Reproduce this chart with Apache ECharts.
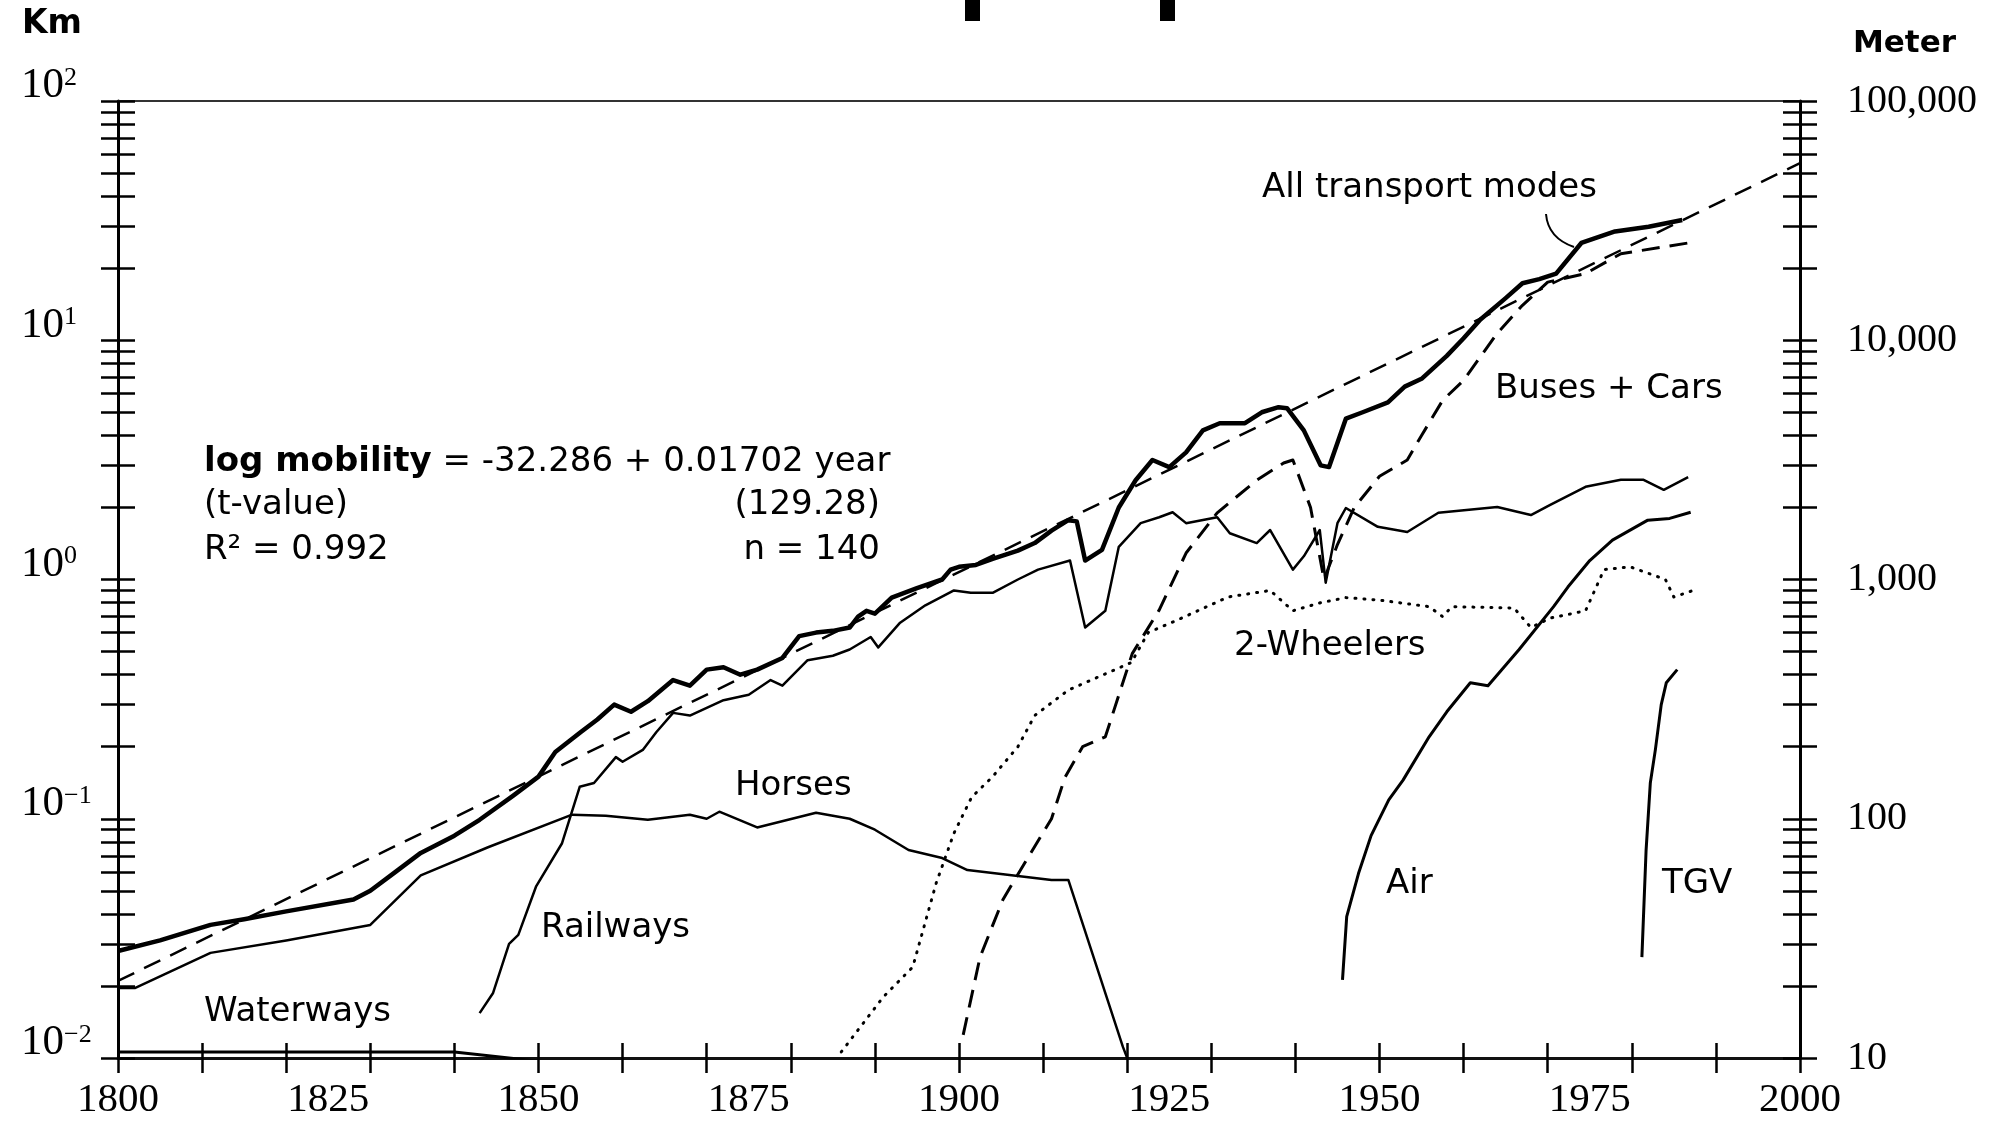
<!DOCTYPE html>
<html>
<head>
<meta charset="utf-8">
<script src="https://cdn.jsdelivr.net/npm/echarts@6/dist/echarts.min.js"></script>
<style>
    html, body { margin: 0; padding: 0; background: #fff; }
    #chart { width: 1995px; height: 1126px; }
</style>
</head>
<body>
<div id="chart"></div>
<script>
// 各交通方式人均日出行距离 (km), 1800-2000, 对数坐标

const allModes = [[1800, 0.028], [1805, 0.031], [1811, 0.036], [1815, 0.038], [1820, 0.041], [1828, 0.046], [1830, 0.05], [1833, 0.06], [1836, 0.072], [1840, 0.085], [1843, 0.099], [1847, 0.125], [1850, 0.15], [1852, 0.19], [1855, 0.23], [1857, 0.26], [1859, 0.30], [1861, 0.28], [1863, 0.31], [1866, 0.38], [1868, 0.36], [1870, 0.42], [1872, 0.43], [1874, 0.40], [1876, 0.42], [1879, 0.47], [1881, 0.58], [1883, 0.60], [1885, 0.61], [1887, 0.63], [1888, 0.70], [1889, 0.74], [1890, 0.72], [1892, 0.84], [1895, 0.92], [1898, 1.0], [1899, 1.1], [1900, 1.13], [1902, 1.15], [1904, 1.22], [1907, 1.32], [1909, 1.42], [1911, 1.6], [1913, 1.77], [1914, 1.75], [1915, 1.2], [1917, 1.33], [1919, 2.0], [1921, 2.6], [1923, 3.16], [1925, 2.95], [1927, 3.4], [1929, 4.2], [1931, 4.5], [1934, 4.5], [1936, 5.0], [1938, 5.25], [1939, 5.2], [1941, 4.2], [1943, 3.0], [1944, 2.95], [1946, 4.7], [1948, 5.0], [1951, 5.5], [1953, 6.4], [1955, 6.9], [1958, 8.6], [1960, 10.2], [1962, 12.2], [1965, 15], [1967, 17.3], [1969, 18], [1971, 19], [1974, 25.5], [1978, 28.5], [1982, 29.8], [1986, 31.8]]

const trendLine = [[1800, 0.021], [2000, 55]]

const horses = [[1800, 0.0196], [1802, 0.0196], [1811, 0.0275], [1820, 0.031], [1830, 0.036], [1836, 0.058], [1844, 0.076], [1854, 0.104], [1858, 0.103], [1863, 0.099], [1868, 0.104], [1870, 0.100], [1871.5, 0.107], [1876, 0.092], [1883, 0.106], [1887, 0.1], [1890, 0.09], [1894, 0.074], [1898, 0.0685], [1901, 0.061], [1907, 0.0577], [1911, 0.0555], [1913, 0.0555], [1919.5, 0.0111], [1920, 0.01]]

const railways = [[1843, 0.0154], [1844.6, 0.0187], [1846.5, 0.030], [1847.6, 0.0327], [1849.7, 0.052], [1852.8, 0.079], [1854.9, 0.136], [1856.6, 0.141], [1859.2, 0.181], [1860, 0.173], [1862.4, 0.194], [1864, 0.23], [1866, 0.277], [1868, 0.27], [1872, 0.313], [1875, 0.33], [1877.6, 0.38], [1879, 0.36], [1882, 0.46], [1885, 0.48], [1887, 0.51], [1889.5, 0.575], [1890.4, 0.52], [1893, 0.66], [1896, 0.78], [1899.4, 0.90], [1901.4, 0.88], [1904, 0.88], [1907, 1.0], [1909.4, 1.1], [1913.2, 1.2], [1915, 0.63], [1917.4, 0.74], [1919, 1.37], [1921.6, 1.72], [1923.8, 1.82], [1925.4, 1.91], [1927, 1.72], [1930.7, 1.82], [1932.2, 1.56], [1935.4, 1.42], [1937, 1.61], [1939.7, 1.1], [1941, 1.25], [1942.9, 1.61], [1943.6, 0.97], [1945, 1.72], [1946, 1.99], [1949.8, 1.66], [1953.3, 1.58], [1957, 1.90], [1964, 2.01], [1968, 1.86], [1970.3, 2.05], [1974.5, 2.44], [1978.7, 2.61], [1981.4, 2.61], [1983.8, 2.37], [1986.7, 2.68]]

const busesCars = [[1900.5, 0.0125], [1902.5, 0.0264], [1905.2, 0.0457], [1906.8, 0.057], [1911, 0.10], [1912.6, 0.149], [1914.7, 0.2], [1917.4, 0.22], [1920.6, 0.49], [1923.8, 0.745], [1927, 1.29], [1930.7, 1.9], [1935.4, 2.6], [1938.6, 3.07], [1939.7, 3.16], [1941.8, 2.0], [1943.4, 1.0], [1945, 1.4], [1947, 2.0], [1950, 2.7], [1953.3, 3.16], [1955, 4.0], [1957.5, 5.6], [1960, 6.8], [1964, 10.7], [1967, 14], [1970, 17.5], [1974.5, 19], [1978.7, 23], [1986.7, 25.5]]

const twoWheelers = [[1886, 0.0106], [1891, 0.018], [1894.5, 0.024], [1897.3, 0.054], [1899.4, 0.087], [1901.5, 0.123], [1904, 0.15], [1907, 0.2], [1909, 0.27], [1913, 0.345], [1920.5, 0.45], [1922.5, 0.6], [1926, 0.678], [1932, 0.845], [1937, 0.90], [1939.7, 0.74], [1943, 0.80], [1946, 0.84], [1950, 0.82], [1955.9, 0.77], [1957.5, 0.70], [1958.6, 0.77], [1966, 0.76], [1968, 0.63], [1970.3, 0.69], [1974.5, 0.74], [1976.7, 1.10], [1979.8, 1.13], [1984, 1.0], [1985, 0.845], [1987.3, 0.90]]

const air = [[1945.6, 0.0212], [1946.1, 0.039], [1947.5, 0.059], [1949, 0.085], [1951.1, 0.12], [1952.8, 0.145], [1955.9, 0.22], [1958, 0.28], [1960.8, 0.37], [1962.9, 0.36], [1966.6, 0.51], [1970.7, 0.77], [1972.4, 0.93], [1975, 1.2], [1977.7, 1.46], [1981.9, 1.77], [1984.5, 1.8], [1987, 1.91]]

const tgv = [[1981.2, 0.0264], [1981.7, 0.074], [1982.2, 0.141], [1982.8, 0.194], [1983.5, 0.3], [1984.1, 0.37], [1985.4, 0.42]]

const waterways = [[1800, 0.0106], [1840, 0.0106], [1850, 0.0097]]

// 刻度
const kmTicks = [0.01, 0.02, 0.03, 0.04, 0.05, 0.06, 0.07, 0.08, 0.09, 0.1, 0.2, 0.3, 0.4, 0.5, 0.6, 0.7, 0.8, 0.9, 1, 2, 3, 4, 5, 6, 7, 8, 9, 10, 20, 30, 40, 50, 60, 70, 80, 90, 100]
const kmLabels = [0.01, 0.1, 1, 10, 100]
const meterTicks = [10, 20, 30, 40, 50, 60, 70, 80, 90, 100, 200, 300, 400, 500, 600, 700, 800, 900, 1000, 2000, 3000, 4000, 5000, 6000, 7000, 8000, 9000, 10000, 20000, 30000, 40000, 50000, 60000, 70000, 80000, 90000, 100000]
const meterLabels = [10, 100, 1000, 10000, 100000]

const SERIF = 'Liberation Serif'
const SANS = 'DejaVu Sans'

function yAxisBase(min, max, position, inside) {
    return {
        type: 'log',
        logBase: 10,
        min: min,
        max: max,
        position: position,
        axisLine: { show: !inside, lineStyle: { color: '#000', width: 3 } },
        axisTick: { show: true, inside: inside, length: 17, lineStyle: { color: '#000', width: 2.5 } },
        splitLine: { show: false },
        axisLabel: { show: false },
    }
}

function xAxisBase(position) {
    return {
        type: 'value',
        min: 1800,
        max: 2000,
        interval: 10,
        position: position,
        axisLine: { show: false, onZero: false },
        axisTick: { show: false },
        axisLabel: { show: false },
        splitLine: { show: false },
    }
}

// 纵轴 km
const yKmOut = yAxisBase(0.01, 100, 'left', false)
yKmOut.axisTick.customValues = kmTicks
yKmOut.axisLabel = {
    show: true,
    customValues: kmLabels,
    align: 'left',
    margin: 97,
    verticalAlign: 'middle',
    padding: [0, 0, 30, 0],
    formatter: (v) => `{b|10}{s|${Math.round(Math.log10(v))}}`.replace('-', '−'),
    rich: {
        b: { fontFamily: SERIF, fontSize: 43, lineHeight: 42, color: '#000' },
        s: { fontFamily: SERIF, fontSize: 26, lineHeight: 24, verticalAlign: 'top', color: '#000' },
    },
}
const yKmIn = yAxisBase(0.01, 100, 'left', true)
yKmIn.axisTick.customValues = kmTicks

// 纵轴 meter
const yMOut = yAxisBase(10, 100000, 'right', false)
yMOut.axisTick.customValues = meterTicks
yMOut.axisLabel = {
    show: true,
    customValues: meterLabels,
    align: 'left',
    margin: 47,
    verticalAlign: 'middle',
    padding: [0, 0, 22, 0],
    fontFamily: SERIF,
    fontSize: 40,
    color: '#000',
    formatter: (v) => Number(v).toLocaleString('en-US'),
}
const yMIn = yAxisBase(10, 100000, 'right', true)
yMIn.axisTick.customValues = meterTicks

// 横轴
const xMain = xAxisBase('bottom')
xMain.axisLine = { show: true, onZero: false, lineStyle: { color: '#111', width: 3 } }
xMain.axisTick = { show: true, inside: false, length: 15, lineStyle: { color: '#000', width: 2.5 } }
const xTickIn = xAxisBase('bottom')
xTickIn.axisTick = { show: true, inside: true, length: 15, lineStyle: { color: '#000', width: 2.5 } }
const xLabels = xAxisBase('bottom')
xLabels.interval = 25
xLabels.axisLabel = {
    show: true,
    margin: 22,
    fontFamily: SERIF,
    fontSize: 41,
    color: '#000',
    showMinLabel: true,
    showMaxLabel: true,
    formatter: (v) => String(v),
}
const xTop = xAxisBase('top')
xTop.axisLine = { show: true, onZero: false, lineStyle: { color: '#333', width: 2 } }

function lineSeries(name, data, width, type, cap) {
    return {
        name: name,
        type: 'line',
        data: data,
        xAxisIndex: 0,
        yAxisIndex: 0,
        symbol: 'none',
        showSymbol: false,
        clip: true,
        silent: true,
        animation: false,
        lineStyle: { color: '#000', width: width, type: type || 'solid', cap: cap || 'butt', join: 'round' },
    }
}

function label(text, x, y, extra) {
    return {
        type: 'text',
        x: x,
        y: y,
        style: Object.assign({ text: text, font: `34px "${SANS}"`, fill: '#000', align: 'left', verticalAlign: 'middle' }, extra || {}),
    }
}

const chart = echarts.init(document.getElementById('chart'))

const option = {
    animation: false,
    backgroundColor: '#fff',
    grid: { left: 118, right: 195, top: 101, bottom: 68, containLabel: false },
    xAxis: [xMain, xTickIn, xLabels, xTop],
    yAxis: [yKmOut, yKmIn, yMOut, yMIn],
    series: [
        lineSeries('Trend', trendLine, 2.5, [18, 11]),
        lineSeries('Waterways', waterways, 3),
        lineSeries('Horses', horses, 2.5),
        lineSeries('Railways', railways, 2.5),
        lineSeries('Buses + Cars', busesCars, 3, [18, 10]),
        lineSeries('2-Wheelers', twoWheelers, 3, [1, 8], 'round'),
        lineSeries('Air', air, 3),
        lineSeries('TGV', tgv, 3),
        lineSeries('All transport modes', allModes, 4.5),
    ],
    graphic: [
        // 顶部被裁切的标题残笔
        { type: 'rect', shape: { x: 965, y: 0, width: 15, height: 21 }, style: { fill: '#000' } },
        { type: 'rect', shape: { x: 1160, y: 0, width: 15, height: 21 }, style: { fill: '#000' } },
        label('Km', 22, 24, { font: `bold 33px "${SANS}"` }),
        label('Meter', 1853, 44, { font: `bold 31px "${SANS}"` }),
        label('All transport modes', 1262, 188),
        label('Buses + Cars', 1495, 389),
        label('2-Wheelers', 1234, 646),
        label('Horses', 735, 786),
        label('Railways', 541, 928),
        label('Waterways', 204, 1012),
        label('Air', 1386, 884),
        label('TGV', 1662, 884),
        {
            type: 'text',
            x: 204,
            y: 462,
            style: {
                text: '{b|log mobility} = -32.286 + 0.01702 year',
                font: `34px "${SANS}"`,
                fill: '#000',
                verticalAlign: 'middle',
                rich: { b: { font: `bold 34px "${SANS}"`, fill: '#000' } },
            },
        },
        label('(t-value)', 204, 505),
        label('(129.28)', 880, 505, { align: 'right' }),
        label('R² = 0.992', 204, 550),
        label('n = 140', 880, 550, { align: 'right' }),
        {
            type: 'bezierCurve',
            shape: { x1: 1546, y1: 214, x2: 1574, y2: 247, cpx1: 1548, cpy1: 238 },
            style: { stroke: '#000', lineWidth: 2, fill: null },
        },
    ],
}

chart.setOption(option)
</script>
</body>
</html>
